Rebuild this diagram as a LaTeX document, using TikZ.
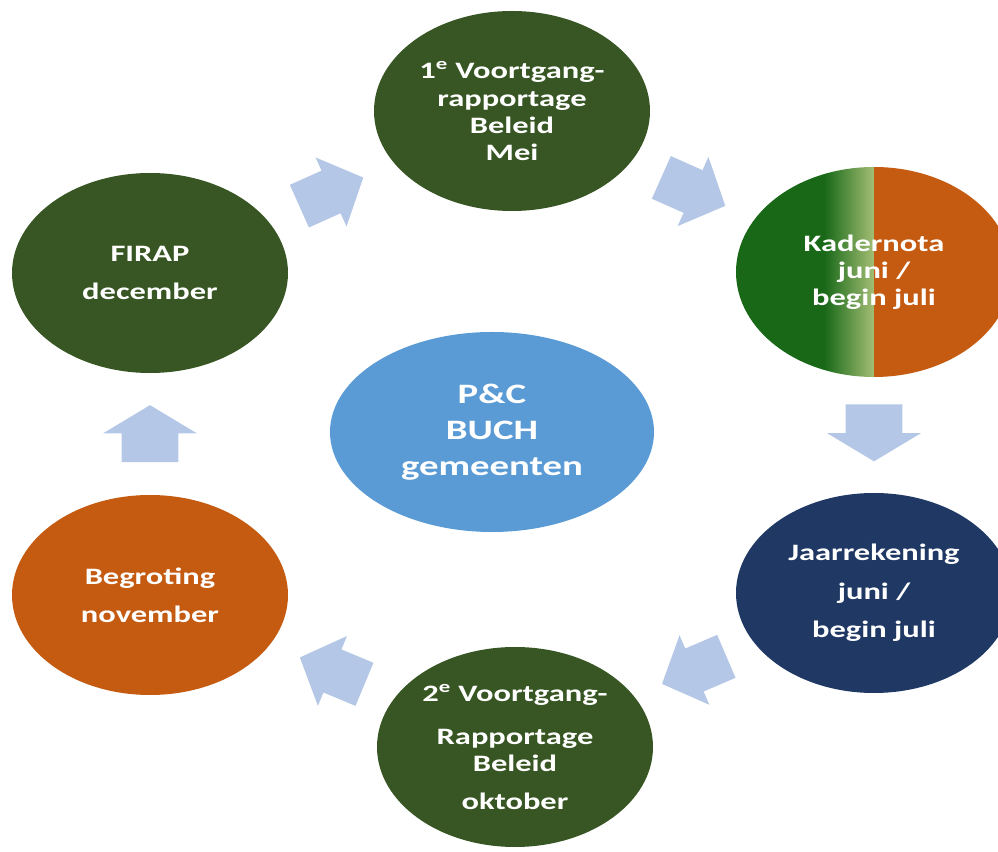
\documentclass[tikz,border=0pt]{standalone}
\usepackage{fontspec}
\setmainfont{Carlito}[FakeStretch=1.38]
\usepackage{tikz}
\usetikzlibrary{shapes.geometric,shapes.arrows,calc}

\definecolor{phasegreen}{HTML}{375623}
\definecolor{phasenavy}{HTML}{1F3864}
\definecolor{phaseorange}{HTML}{C55A11}
\definecolor{hubblue}{HTML}{5B9BD5}
\definecolor{arrowblue}{HTML}{B4C7E7}
\definecolor{kadgreen}{HTML}{186818}
\definecolor{kadlight}{HTML}{A3BE74}

\tikzset{
  phase/.style={ellipse, minimum width=5.52cm, minimum height=4cm, inner sep=-6mm,
    text=white, align=center, font=\bfseries\fontsize{13.4}{15.4}\selectfont},
  spread/.style={font=\bfseries\fontsize{13.4}{21.8}\selectfont},
  hub/.style={phase, minimum width=6.48cm, font=\bfseries\fontsize{16}{20.5}\selectfont},
  diagarrow/.style={single arrow, fill=arrowblue, sloped, allow upside down, anchor=tail, pos=0,
    inner xsep=0pt, inner ysep=0.46cm, minimum height=1.4cm, minimum width=1.5cm,
    single arrow head extend=0.29cm, single arrow tip angle=94},
  vertarrow/.style={diagarrow, inner ysep=0.56cm, minimum height=1.14cm, minimum width=1.86cm,
    single arrow head extend=0.37cm, single arrow tip angle=118}
}

\begin{document}
\begin{tikzpicture}
  \useasboundingbox (0,0) rectangle (19.96,-17.04);

  % Define phases of the cycle
  \node[phase, fill=phasegreen] (mei) at (10.24,-2.22) {1\textsuperscript{e} Voortgang-\\rapportage\\Beleid\\Mei};
  \node[phase, minimum height=4.2cm, path picture={
      \fill[kadgreen] (path picture bounding box.south west) rectangle ([xshift=-1cm]path picture bounding box.north);
      \shade[left color=kadgreen, right color=kadlight] ([xshift=-1cm]path picture bounding box.south) rectangle (path picture bounding box.north);
      \fill[phaseorange] (path picture bounding box.south) rectangle (path picture bounding box.north east);
    }] (kad) at (17.48,-5.44) {Kadernota\\juni /\\begin juli};
  \node[phase, spread, fill=phasenavy] (jaar) at (17.48,-11.86) {Jaarrekening\\juni /\\begin juli};
  \node[phase, fill=phasegreen] (okt) at (10.30,-14.94) {2\textsuperscript{e} Voortgang-\\[9pt]Rapportage\\Beleid\\[6.2pt]oktober};
  \node[phase, spread, fill=phaseorange] (beg) at (3.0,-11.9) {Begroting\\november};
  \node[phase, spread, fill=phasegreen] (firap) at (3.0,-5.46) {FIRAP\\december};
  \node[hub, fill=hubblue] (pc) at (9.84,-8.64) {P\&C\\BUCH\\gemeenten};

  % Draw block arrows between phases (tail half a length before the midpoint)
  \path ($(firap.center)!0.5!(mei.center)!-0.7cm!(mei.center)$) -- node[diagarrow] (a1) {} (mei.center);
  \path ($(mei.center)!0.5!(kad.center)!-0.7cm!(kad.center)$) -- node[diagarrow] (a2) {} (kad.center);
  \path ($(kad.center)!0.5!(jaar.center)!-0.57cm!(jaar.center)$) -- node[vertarrow] (a3) {} (jaar.center);
  \path ($(jaar.center)!0.5!(okt.center)!-0.7cm!(okt.center)$) -- node[diagarrow] (a4) {} (okt.center);
  \path ($(okt.center)!0.5!(beg.center)!-0.7cm!(beg.center)$) -- node[diagarrow] (a5) {} (beg.center);
  \path ($(beg.center)!0.5!(firap.center)!-0.57cm!(firap.center)$) -- node[vertarrow] (a6) {} (firap.center);
\end{tikzpicture}
\end{document}
